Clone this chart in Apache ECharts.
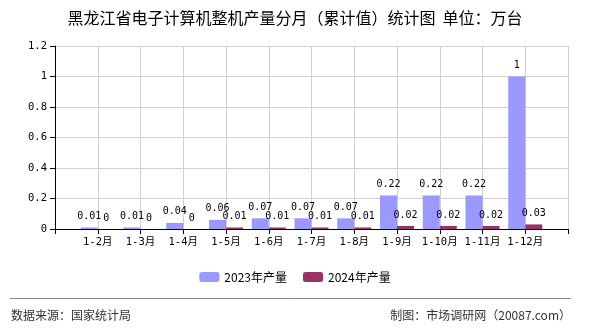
<!DOCTYPE html>
<html>
<head>
<meta charset="utf-8">
<script src="https://cdn.jsdelivr.net/npm/echarts@6/dist/echarts.min.js"></script>
<style>
  html, body { margin: 0; padding: 0; background: #fff; }
  #chart { width: 590px; height: 330px; }
</style>
</head>
<body>
<div id="chart"></div>
<script>
let months = ['1-2月', '1-3月', '1-4月', '1-5月', '1-6月', '1-7月', '1-8月', '1-9月', '1-10月', '1-11月', '1-12月'];
let output2023 = [0.01, 0.01, 0.04, 0.06, 0.07, 0.07, 0.07, 0.22, 0.22, 0.22, 1];
let output2024 = [0, 0, 0, 0.01, 0.01, 0.01, 0.01, 0.02, 0.02, 0.02, 0.03];
let yTicks = [0, 0.2, 0.4, 0.6, 0.8, 1, 1.2];

/* 两端各留一个空位，标签落在刻度上 */
let xData = [''].concat(months, ['']);
let pad = function (arr) {
    return ['-'].concat(arr, ['-']);
};

let font = '"Noto Sans CJK SC", sans-serif';
let monoFont = '"DejaVu Sans Mono", "Noto Sans CJK SC", monospace';
let myChart = echarts.init(document.getElementById('chart'));
let labelStyle = {
    show: true,
    position: 'top',
    color: '#000',
    fontSize: 10,
    fontFamily: monoFont,
    distance: 6
};
let options = {
    animation: false,
    title: {
        text: '黑龙江省电子计算机整机产量分月（累计值）统计图  单位：万台',
        left: 'center',
        top: 5,
        textStyle: { fontSize: 16, fontWeight: 'normal', color: '#000', fontFamily: font }
    },
    legend: {
        bottom: 42,
        left: 'center',
        itemWidth: 20,
        itemHeight: 10,
        itemGap: 16,
        textStyle: { fontSize: 12, color: '#000', fontFamily: font },
        data: ['2023年产量', '2024年产量']
    },
    grid: { left: 55, right: 22, top: 46, bottom: 101, containLabel: false },
    xAxis: {
        type: 'category',
        data: xData,
        boundaryGap: false,
        axisLine: { lineStyle: { color: '#000' } },
        axisTick: { show: true, length: 5, lineStyle: { color: '#000' } },
        axisLabel: { color: '#000', fontSize: 10.5, fontFamily: monoFont, margin: 8, interval: 0 },
        splitLine: { show: true, lineStyle: { color: '#d0d0d0' } }
    },
    yAxis: {
        type: 'value',
        min: yTicks[0],
        max: yTicks[yTicks.length - 1],
        interval: 0.2,
        axisLine: { show: true, lineStyle: { color: '#000' } },
        axisTick: { show: true, length: 5, lineStyle: { color: '#000' } },
        axisLabel: {
            color: '#000', fontSize: 10.5, fontFamily: monoFont, margin: 8,
            formatter: function (v) { return String(Math.round(v * 10) / 10); }
        },
        splitLine: { show: true, lineStyle: { color: '#d0d0d0' } }
    },
    graphic: [
        {
            type: 'line',
            shape: { x1: 10, y1: 298.5, x2: 571, y2: 298.5 },
            style: { stroke: '#888', lineWidth: 1 }
        },
        {
            type: 'text', left: 11, top: 309,
            style: { text: '数据来源：国家统计局', fill: '#333', fontSize: 12, fontFamily: font }
        },
        {
            type: 'text', right: 19, top: 309,
            style: { text: '制图：市场调研网（20087.com）', fill: '#333', fontSize: 12, fontFamily: font }
        }
    ],
    series: [
        {
            name: '2023年产量',
            type: 'bar',
            barWidth: 17,
            barGap: '0%',
            itemStyle: { color: '#9999ff' },
            label: labelStyle,
            data: pad(output2023)
        },
        {
            name: '2024年产量',
            type: 'bar',
            barWidth: 17,
            barGap: '0%',
            itemStyle: { color: '#993366' },
            label: labelStyle,
            data: pad(output2024)
        }
    ]
};
myChart.setOption(options);
</script>
</body>
</html>
